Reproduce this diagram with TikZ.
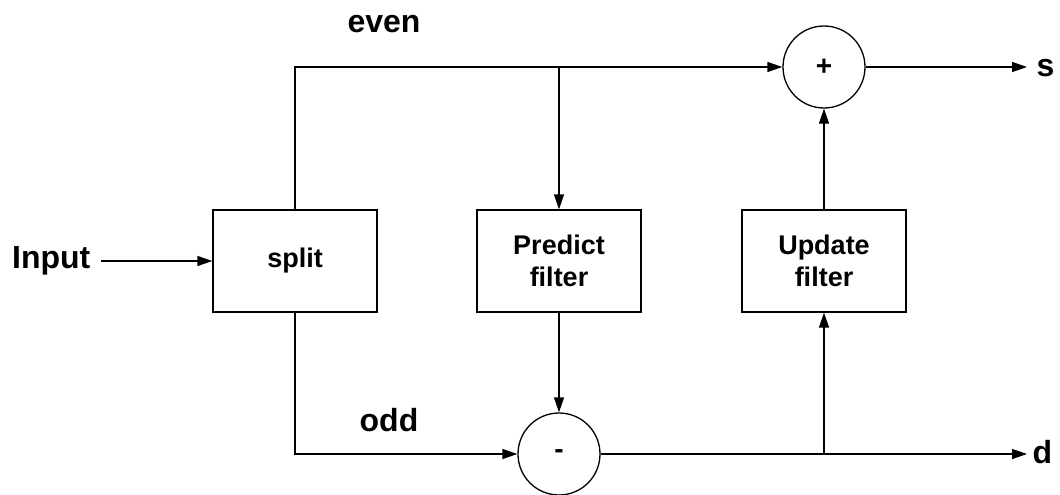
\documentclass[tikz,border=0pt]{standalone}
\usepackage{fontspec}
\setmainfont{Liberation Sans}
\usetikzlibrary{arrows.meta}
\begin{document}
\begin{tikzpicture}[x=1pt,y=-1pt,
  line width=1.3pt,
  arr/.style={-{Triangle[length=15pt,width=10pt]}},
  blockbox/.style={draw, rectangle, minimum width=164pt, minimum height=102pt,
    align=center, font=\fontsize{27}{32}\selectfont\bfseries, inner sep=0pt},
  sumnode/.style={draw, circle, minimum size=82pt, inner sep=0pt,
    font=\fontsize{28}{32}\selectfont\bfseries},
  lbl/.style={font=\fontsize{32}{38}\selectfont\bfseries, inner sep=0pt}
]
\useasboundingbox (0,0) rectangle (1060,495);

% blocks
\node[blockbox] (split) at (295,261) {split};
\node[blockbox] (pred) at (559,261) {Predict\\filter};
\node[blockbox] (upd) at (824,261) {Update\\filter};

% adder and subtractor
\node[sumnode] (plus) at (824,67) {+};
\node[sumnode] (minus) at (559,454) {-};

% signal labels
\node[lbl, anchor=east] (in) at (91,261) {Input};
\node[lbl] (even) at (384,24) {even};
\node[lbl] (odd) at (389,420) {odd};
\node[lbl, anchor=west] (s) at (1036,68) {s};
\node[lbl, anchor=west] (d) at (1032,452) {d};

% free ends and junctions
\coordinate (instart) at (101,261);
\coordinate (sout) at (1027,67);
\coordinate (dout) at (1027,454);
\coordinate (jeven) at (pred.north |- plus.west);
\coordinate (jodd) at (upd.south |- minus.east);

% connectors
\draw[arr] (instart) -- (split.west);
\draw[arr] (split.north) |- (plus.west);
\draw[arr] (jeven) -- (pred.north);
\draw[arr] (split.south) |- (minus.west);
\draw[arr] (pred.south) -- (minus.north);
\draw[arr] (minus.east) -- (dout);
\draw[arr] (jodd) -- (upd.south);
\draw[arr] (upd.north) -- (plus.south);
\draw[arr] (plus.east) -- (sout);
\end{tikzpicture}
\end{document}
